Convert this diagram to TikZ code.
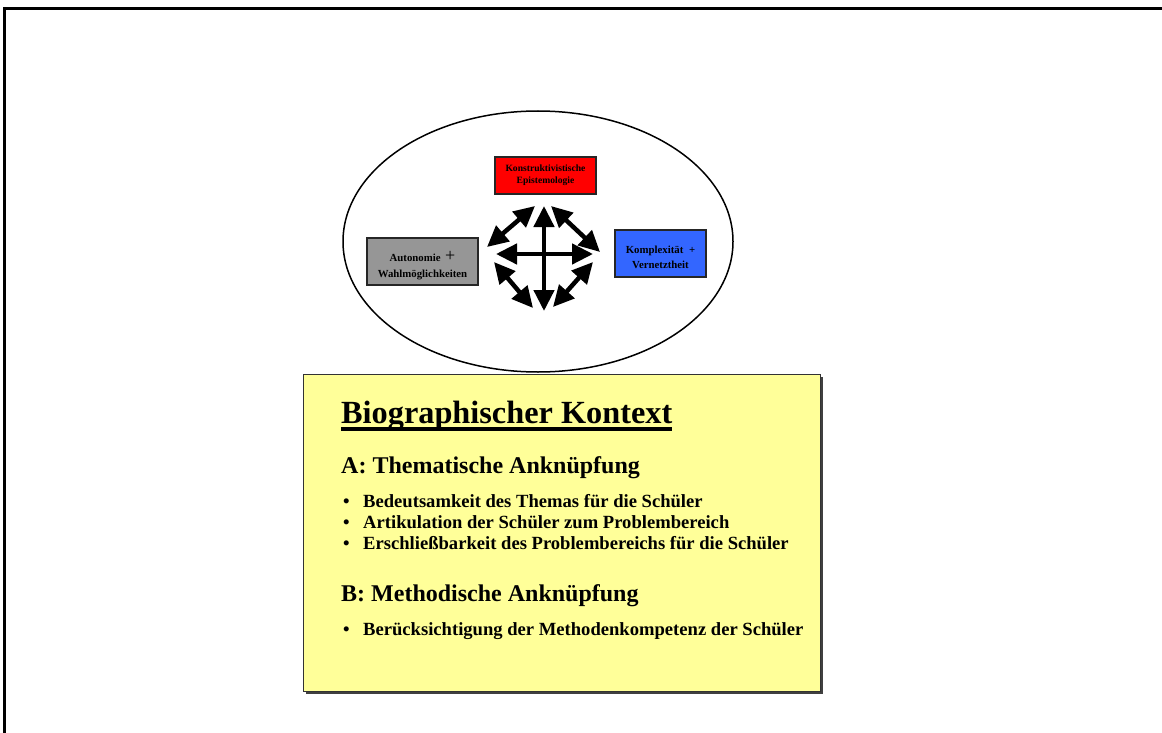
\documentclass[tikz,border=0pt]{standalone}
\usepackage{fontspec}
\setmainfont{Liberation Serif}
\usetikzlibrary{arrows.meta,shadows,shapes.geometric}
\definecolor{boxred}{HTML}{FF0000}
\definecolor{boxgray}{HTML}{969696}
\definecolor{boxblue}{HTML}{3366FF}
\definecolor{noteyellow}{HTML}{FFFF99}
\begin{document}
\begin{tikzpicture}[x=1pt,y=-1pt,
  smallbox/.style={draw=black!85, line width=1.6pt, inner sep=0pt},
  boxtext/.style={inner sep=0pt, align=center, font=\fontsize{10.8}{16}\selectfont\bfseries},
  dbl/.style={line width=4.5pt, {Triangle[length=21pt,width=20pt]}-{Triangle[length=21pt,width=20pt]}},
  txt/.style={anchor=base west, inner sep=0pt},
  bul/.style={txt, font=\fontsize{18.6}{21}\selectfont\bfseries},
  head/.style={txt, font=\fontsize{24}{28}\selectfont\bfseries}
]
\useasboundingbox (0,0) rectangle (1162,733);
% frame (top and left only)
\draw[line width=3pt] (4,733) -- (4,9) -- (1162,9);

% ellipse
\node[ellipse, draw, line width=1.5pt, minimum width=390pt, minimum height=261pt, inner sep=0pt] (ell) at (538,241.5) {};

% boxes
\node[smallbox, fill=boxred, minimum width=101pt, minimum height=37pt] (epist) at (545.5,175.5) {};
\node[boxtext, font=\fontsize{9.6}{12}\selectfont\bfseries] (epistt) at (545.5,175.5)
  {Konstruktivistische\\Epistemologie};
\node[smallbox, fill=boxgray, minimum width=111pt, minimum height=47pt] (auto) at (422.5,261.5) {};
\node[boxtext, anchor=base] (autot1) at (422.5,261) {Autonomie \,{\mdseries\fontsize{18}{18}\selectfont +}};
\node[boxtext, anchor=base] (autot2) at (422.5,277) {Wahlmöglichkeiten};
\node[smallbox, fill=boxblue, minimum width=91pt, minimum height=47pt] (kompl) at (660.5,253.5) {};
\node[boxtext, anchor=base] (komplt1) at (660.5,253) {Komplexität \;+};
\node[boxtext, anchor=base] (komplt2) at (660.5,268.5) {Vernetztheit};

% arrow endpoints
\coordinate (vt) at (544,206);
\coordinate (vb) at (544,311);
\coordinate (hl) at (496,254);
\coordinate (hr) at (593,254);
\coordinate (ula) at (487,247);
\coordinate (ulb) at (535,206);
\coordinate (ura) at (551,206);
\coordinate (urb) at (600,252);
\coordinate (lla) at (494,262);
\coordinate (llb) at (533,308);
\coordinate (lra) at (553,307);
\coordinate (lrb) at (593,262);
\draw[dbl] (vt) -- (vb);
\draw[dbl] (hl) -- (hr);
\draw[dbl] (ula) -- (ulb);
\draw[dbl] (ura) -- (urb);
\draw[dbl] (lla) -- (llb);
\draw[dbl] (lra) -- (lrb);

% yellow box
\node[draw=black!80, line width=1pt, fill=noteyellow, minimum width=517pt, minimum height=317pt, inner sep=0pt,
  drop shadow={shadow xshift=2.5pt, shadow yshift=-2.5pt, fill=black!75, opacity=1}] (ctx) at (561.5,532.5) {};

\node[txt, font=\fontsize{32.3}{38}\selectfont\bfseries] (title) at (341,423) {Biographischer Kontext};
\draw[line width=3.2pt] ([yshift=-6pt]title.base west) -- ([yshift=-6pt]title.base east);

\node[head] (ha) at (341,473) {A: Thematische Anknüpfung};
\node[bul] (b1d) at (343,507) {•};
\node[bul] (b1) at (363,507) {Bedeutsamkeit des Themas für die Schüler};
\node[bul] (b2d) at (343,528) {•};
\node[bul] (b2) at (363,528) {Artikulation der Schüler zum Problembereich};
\node[bul] (b3d) at (343,549) {•};
\node[bul] (b3) at (363,549) {Erschließbarkeit des Problembereichs für die Schüler};

\node[head] (hb) at (341,601) {B: Methodische Anknüpfung};
\node[bul] (b4d) at (343,635) {•};
\node[bul] (b4) at (363,635) {Berücksichtigung der Methodenkompetenz der Schüler};
\end{tikzpicture}
\end{document}
